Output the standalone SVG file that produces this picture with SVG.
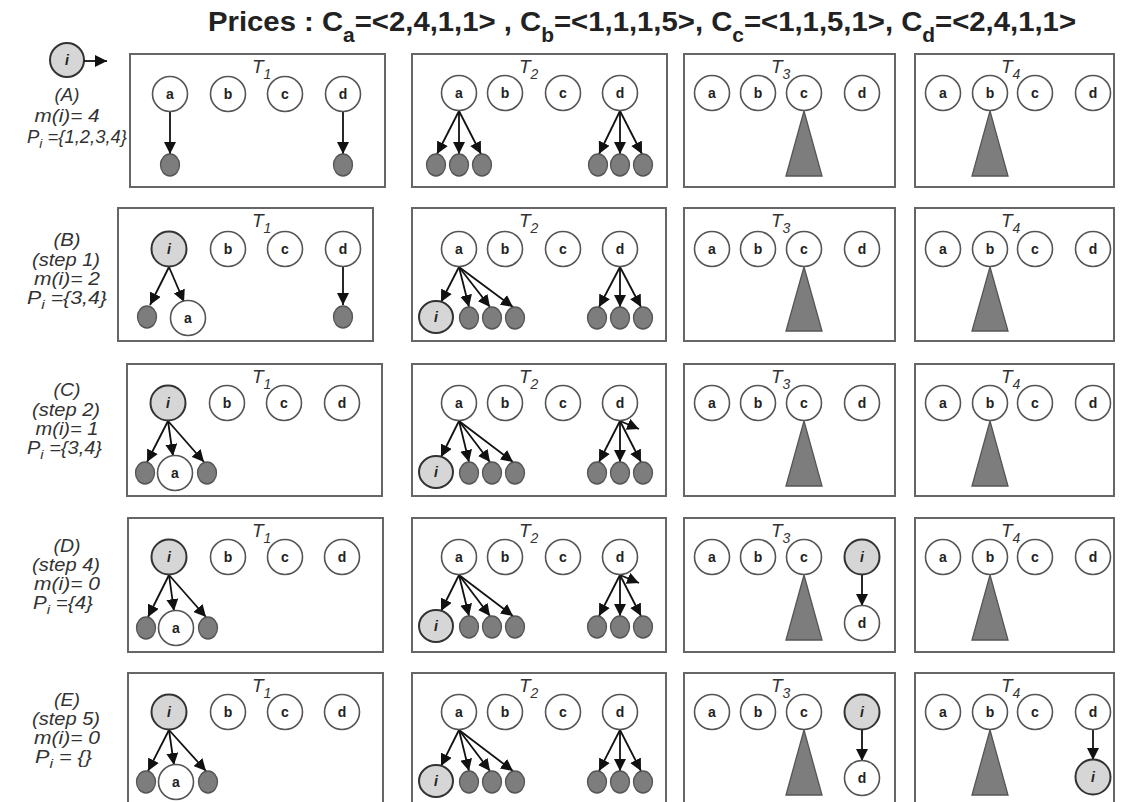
<svg xmlns="http://www.w3.org/2000/svg" width="1121" height="802" viewBox="0 0 1121 802">
<style>
text{font-family:"Liberation Sans",Arial,sans-serif}
.box{fill:#fff;stroke:#666;stroke-width:2}
.n{fill:#fff;stroke:#555;stroke-width:1.6}
.g{fill:#d6d6d6;stroke:#333;stroke-width:2}
.leaf{fill:#7d7d7d;stroke:#555;stroke-width:1.3}
.tri{fill:#7d7d7d;stroke:#555;stroke-width:1.3}
.nl{font-size:14px;font-weight:bold;fill:#222;text-anchor:middle}
.il{font-size:14px;font-weight:bold;font-style:italic;fill:#222;text-anchor:middle}
.tl{font-size:19px;font-style:italic;fill:#333}
.rl{font-size:17.5px;font-style:italic;fill:#333}
.mid{text-anchor:middle}
.e{stroke:#111;stroke-width:1.8;fill:none;marker-end:url(#ah)}
</style>
<defs>
<marker id="ah" viewBox="0 0 10 10" refX="10" refY="5" markerWidth="12" markerHeight="12" markerUnits="userSpaceOnUse" orient="auto"><path d="M0,0 L10,5 L0,10 z" fill="#111"/></marker>
</defs>
<rect width="1121" height="802" fill="#fff"/>
<text x="208" y="31" font-size="28" font-weight="bold" fill="#222" textLength="868" lengthAdjust="spacingAndGlyphs">Prices : C<tspan dy="11" font-size="20">a</tspan><tspan dy="-11">=&lt;2,4,1,1&gt; , C</tspan><tspan dy="11" font-size="20">b</tspan><tspan dy="-11">=&lt;1,1,1,5&gt;, C</tspan><tspan dy="11" font-size="20">c</tspan><tspan dy="-11">=&lt;1,1,5,1&gt;, C</tspan><tspan dy="11" font-size="20">d</tspan><tspan dy="-11">=&lt;2,4,1,1&gt;</tspan></text>

<g id="legend">
<circle class="g" cx="67" cy="60" r="17"/><text class="il" x="67" y="65">i</text>
</g>

<g id="row-labels">
<text class="rl mid" x="67" y="101" textLength="25" lengthAdjust="spacingAndGlyphs">(A)</text>
<text class="rl mid" x="67" y="122" textLength="65" lengthAdjust="spacingAndGlyphs">m(i)= 4</text>
<text class="rl" x="27" y="143" textLength="100" lengthAdjust="spacingAndGlyphs">P<tspan dy="5" font-size="13">i</tspan><tspan dy="-5"> ={1,2,3,4}</tspan></text>
<text class="rl mid" x="67" y="246" textLength="27" lengthAdjust="spacingAndGlyphs">(B)</text>
<text class="rl mid" x="66" y="266" textLength="68" lengthAdjust="spacingAndGlyphs">(step 1)</text>
<text class="rl mid" x="67" y="285" textLength="66" lengthAdjust="spacingAndGlyphs">m(i)= 2</text>
<text class="rl" x="27" y="304" textLength="80" lengthAdjust="spacingAndGlyphs">P<tspan dy="5" font-size="13">i</tspan><tspan dy="-5"> ={3,4}</tspan></text>
<text class="rl mid" x="67" y="396" textLength="27" lengthAdjust="spacingAndGlyphs">(C)</text>
<text class="rl mid" x="66" y="416" textLength="68" lengthAdjust="spacingAndGlyphs">(step 2)</text>
<text class="rl mid" x="67" y="435" textLength="63" lengthAdjust="spacingAndGlyphs">m(i)= 1</text>
<text class="rl" x="27" y="454" textLength="75" lengthAdjust="spacingAndGlyphs">P<tspan dy="5" font-size="13">i</tspan><tspan dy="-5"> ={3,4}</tspan></text>
<text class="rl mid" x="67" y="552" textLength="27" lengthAdjust="spacingAndGlyphs">(D)</text>
<text class="rl mid" x="66" y="571" textLength="68" lengthAdjust="spacingAndGlyphs">(step 4)</text>
<text class="rl mid" x="67" y="590" textLength="66" lengthAdjust="spacingAndGlyphs">m(i)= 0</text>
<text class="rl" x="33" y="609" textLength="60" lengthAdjust="spacingAndGlyphs">P<tspan dy="5" font-size="13">i</tspan><tspan dy="-5"> ={4}</tspan></text>
<text class="rl mid" x="67" y="706" textLength="26" lengthAdjust="spacingAndGlyphs">(E)</text>
<text class="rl mid" x="66" y="725" textLength="68" lengthAdjust="spacingAndGlyphs">(step 5)</text>
<text class="rl mid" x="67" y="744" textLength="66" lengthAdjust="spacingAndGlyphs">m(i)= 0</text>
<text class="rl" x="35" y="763" textLength="57" lengthAdjust="spacingAndGlyphs">P<tspan dy="5" font-size="13">i</tspan><tspan dy="-5"> = {}</tspan></text>
</g>

<g id="boxes">
<rect class="box" x="130" y="54" width="255" height="133"/>
<rect class="box" x="412" y="54" width="255" height="133"/>
<rect class="box" x="684" y="54" width="211" height="133"/>
<rect class="box" x="915" y="54" width="199" height="133"/>
<rect class="box" x="118" y="208" width="255" height="133"/>
<rect class="box" x="412" y="208" width="254" height="133"/>
<rect class="box" x="684" y="208" width="211" height="133"/>
<rect class="box" x="915" y="208" width="199" height="133"/>
<rect class="box" x="127" y="364" width="255" height="132"/>
<rect class="box" x="412" y="364" width="254" height="132"/>
<rect class="box" x="684" y="364" width="211" height="132"/>
<rect class="box" x="915" y="364" width="199" height="132"/>
<rect class="box" x="128" y="518" width="255" height="134"/>
<rect class="box" x="412" y="518" width="254" height="134"/>
<rect class="box" x="684" y="518" width="211" height="134"/>
<rect class="box" x="915" y="518" width="199" height="134"/>
<rect class="box" x="128" y="673" width="255" height="134"/>
<rect class="box" x="412" y="673" width="254" height="134"/>
<rect class="box" x="684" y="673" width="211" height="134"/>
<rect class="box" x="915" y="673" width="199" height="134"/>
</g>

<g id="tree-labels">
<text class="tl" x="252" y="73">T<tspan dy="6" font-size="14">1</tspan></text>
<text class="tl" x="519" y="73">T<tspan dy="6" font-size="14">2</tspan></text>
<text class="tl" x="771" y="73">T<tspan dy="6" font-size="14">3</tspan></text>
<text class="tl" x="1001" y="73">T<tspan dy="6" font-size="14">4</tspan></text>
<text class="tl" x="252" y="227">T<tspan dy="6" font-size="14">1</tspan></text>
<text class="tl" x="519" y="227">T<tspan dy="6" font-size="14">2</tspan></text>
<text class="tl" x="771" y="227">T<tspan dy="6" font-size="14">3</tspan></text>
<text class="tl" x="1001" y="227">T<tspan dy="6" font-size="14">4</tspan></text>
<text class="tl" x="252" y="383">T<tspan dy="6" font-size="14">1</tspan></text>
<text class="tl" x="519" y="383">T<tspan dy="6" font-size="14">2</tspan></text>
<text class="tl" x="771" y="383">T<tspan dy="6" font-size="14">3</tspan></text>
<text class="tl" x="1001" y="383">T<tspan dy="6" font-size="14">4</tspan></text>
<text class="tl" x="252" y="537">T<tspan dy="6" font-size="14">1</tspan></text>
<text class="tl" x="519" y="537">T<tspan dy="6" font-size="14">2</tspan></text>
<text class="tl" x="771" y="537">T<tspan dy="6" font-size="14">3</tspan></text>
<text class="tl" x="1001" y="537">T<tspan dy="6" font-size="14">4</tspan></text>
<text class="tl" x="252" y="692">T<tspan dy="6" font-size="14">1</tspan></text>
<text class="tl" x="519" y="692">T<tspan dy="6" font-size="14">2</tspan></text>
<text class="tl" x="771" y="692">T<tspan dy="6" font-size="14">3</tspan></text>
<text class="tl" x="1001" y="692">T<tspan dy="6" font-size="14">4</tspan></text>
</g>

<g id="connectors">
<line class="e" x1="84" y1="61" x2="107" y2="61"/>
<!-- Row A -->
<line class="e" x1="170" y1="112" x2="170" y2="154"/>
<line class="e" x1="343" y1="112" x2="343" y2="154"/>
<line class="e" x1="459" y1="111" x2="437" y2="154"/>
<line class="e" x1="459" y1="111" x2="459" y2="154"/>
<line class="e" x1="459" y1="111" x2="481" y2="154"/>
<line class="e" x1="620" y1="111" x2="599" y2="154"/>
<line class="e" x1="620" y1="111" x2="620" y2="154"/>
<line class="e" x1="620" y1="111" x2="642" y2="154"/>
<!-- Row B -->
<line class="e" x1="169" y1="267" x2="150" y2="305"/>
<line class="e" x1="169" y1="267" x2="184" y2="302"/>
<line class="e" x1="343" y1="267" x2="343" y2="305"/>
<line class="e" x1="459" y1="267" x2="441" y2="302"/>
<line class="e" x1="459" y1="267" x2="469" y2="307"/>
<line class="e" x1="459" y1="267" x2="490" y2="307"/>
<line class="e" x1="459" y1="267" x2="513" y2="307"/>
<line class="e" x1="620" y1="267" x2="599" y2="307"/>
<line class="e" x1="620" y1="267" x2="620" y2="307"/>
<line class="e" x1="620" y1="267" x2="641" y2="307"/>
<!-- Row C -->
<line class="e" x1="168" y1="421" x2="147" y2="462"/>
<line class="e" x1="168" y1="421" x2="173" y2="456"/>
<line class="e" x1="168" y1="421" x2="204" y2="462"/>
<line class="e" x1="459" y1="421" x2="441" y2="457"/>
<line class="e" x1="459" y1="421" x2="469" y2="462"/>
<line class="e" x1="459" y1="421" x2="490" y2="462"/>
<line class="e" x1="459" y1="421" x2="513" y2="462"/>
<line class="e" x1="620" y1="421" x2="599" y2="462"/>
<line class="e" x1="620" y1="421" x2="620" y2="462"/>
<line class="e" x1="620" y1="421" x2="641" y2="462"/>
<line class="e" x1="620" y1="421" x2="639" y2="429"/>
<!-- Row D -->
<line class="e" x1="169" y1="575" x2="148" y2="617"/>
<line class="e" x1="169" y1="575" x2="174" y2="611"/>
<line class="e" x1="169" y1="575" x2="206" y2="617"/>
<line class="e" x1="459" y1="575" x2="441" y2="611"/>
<line class="e" x1="459" y1="575" x2="469" y2="616"/>
<line class="e" x1="459" y1="575" x2="490" y2="616"/>
<line class="e" x1="459" y1="575" x2="513" y2="616"/>
<line class="e" x1="620" y1="575" x2="599" y2="616"/>
<line class="e" x1="620" y1="575" x2="620" y2="616"/>
<line class="e" x1="620" y1="575" x2="641" y2="616"/>
<line class="e" x1="620" y1="575" x2="639" y2="583"/>
<line class="e" x1="862" y1="575" x2="862" y2="606"/>
<!-- Row E -->
<line class="e" x1="169" y1="730" x2="148" y2="771"/>
<line class="e" x1="169" y1="730" x2="174" y2="765"/>
<line class="e" x1="169" y1="730" x2="206" y2="771"/>
<line class="e" x1="459" y1="730" x2="441" y2="766"/>
<line class="e" x1="459" y1="730" x2="469" y2="771"/>
<line class="e" x1="459" y1="730" x2="490" y2="771"/>
<line class="e" x1="459" y1="730" x2="513" y2="771"/>
<line class="e" x1="620" y1="730" x2="599" y2="771"/>
<line class="e" x1="620" y1="730" x2="620" y2="771"/>
<line class="e" x1="620" y1="730" x2="641" y2="771"/>
<line class="e" x1="862" y1="730" x2="862" y2="761"/>
<line class="e" x1="1093" y1="730" x2="1093" y2="760"/>
</g>

<!-- Row A nodes -->
<g id="A-T1-a"><circle class="n" cx="170" cy="94" r="17.5"/><text class="nl" x="170" y="99">a</text></g>
<g id="A-T1-b"><circle class="n" cx="228" cy="94" r="17.5"/><text class="nl" x="228" y="99">b</text></g>
<g id="A-T1-c"><circle class="n" cx="285" cy="94" r="17.5"/><text class="nl" x="285" y="99">c</text></g>
<g id="A-T1-d"><circle class="n" cx="343" cy="94" r="17.5"/><text class="nl" x="343" y="99">d</text></g>
<g id="A-T1-l1"><ellipse class="leaf" cx="170" cy="165" rx="9.5" ry="11"/></g>
<g id="A-T1-l2"><ellipse class="leaf" cx="343" cy="165" rx="9.5" ry="11"/></g>
<g id="A-T2-a"><circle class="n" cx="459" cy="93" r="17.5"/><text class="nl" x="459" y="98">a</text></g>
<g id="A-T2-b"><circle class="n" cx="505" cy="93" r="17.5"/><text class="nl" x="505" y="98">b</text></g>
<g id="A-T2-c"><circle class="n" cx="563" cy="93" r="17.5"/><text class="nl" x="563" y="98">c</text></g>
<g id="A-T2-d"><circle class="n" cx="620" cy="93" r="17.5"/><text class="nl" x="620" y="98">d</text></g>
<g id="A-T2-leaves"><ellipse class="leaf" cx="436" cy="165" rx="9.5" ry="11"/><ellipse class="leaf" cx="459" cy="165" rx="9.5" ry="11"/><ellipse class="leaf" cx="482" cy="165" rx="9.5" ry="11"/><ellipse class="leaf" cx="598" cy="165" rx="9.5" ry="11"/><ellipse class="leaf" cx="620" cy="165" rx="9.5" ry="11"/><ellipse class="leaf" cx="643" cy="165" rx="9.5" ry="11"/></g>
<g id="A-T3-tri"><polygon class="tri" points="804,111 786,176 822,176"/></g>
<g id="A-T3-a"><circle class="n" cx="712" cy="93" r="17.5"/><text class="nl" x="712" y="98">a</text></g>
<g id="A-T3-b"><circle class="n" cx="758" cy="93" r="17.5"/><text class="nl" x="758" y="98">b</text></g>
<g id="A-T3-c"><circle class="n" cx="804" cy="93" r="17.5"/><text class="nl" x="804" y="98">c</text></g>
<g id="A-T3-d"><circle class="n" cx="862" cy="93" r="17.5"/><text class="nl" x="862" y="98">d</text></g>
<g id="A-T4-tri"><polygon class="tri" points="990,111 972,176 1008,176"/></g>
<g id="A-T4-a"><circle class="n" cx="943" cy="93" r="17.5"/><text class="nl" x="943" y="98">a</text></g>
<g id="A-T4-b"><circle class="n" cx="990" cy="93" r="17.5"/><text class="nl" x="990" y="98">b</text></g>
<g id="A-T4-c"><circle class="n" cx="1035" cy="93" r="17.5"/><text class="nl" x="1035" y="98">c</text></g>
<g id="A-T4-d"><circle class="n" cx="1093" cy="93" r="17.5"/><text class="nl" x="1093" y="98">d</text></g>

<!-- Row B nodes -->
<g id="B-T1-i"><circle class="g" cx="169" cy="249" r="17.5"/><text class="il" x="169" y="254">i</text></g>
<g id="B-T1-b"><circle class="n" cx="228" cy="249" r="17.5"/><text class="nl" x="228" y="254">b</text></g>
<g id="B-T1-c"><circle class="n" cx="285" cy="249" r="17.5"/><text class="nl" x="285" y="254">c</text></g>
<g id="B-T1-d"><circle class="n" cx="343" cy="249" r="17.5"/><text class="nl" x="343" y="254">d</text></g>
<g id="B-T1-l1"><ellipse class="leaf" cx="147" cy="317" rx="9.5" ry="11"/></g>
<g id="B-T1-a"><circle class="n" cx="188" cy="318" r="17.5"/><text class="nl" x="188" y="323">a</text></g>
<g id="B-T1-l2"><ellipse class="leaf" cx="343" cy="317" rx="9.5" ry="11"/></g>
<g id="B-T2-a"><circle class="n" cx="459" cy="249" r="17.5"/><text class="nl" x="459" y="254">a</text></g>
<g id="B-T2-b"><circle class="n" cx="505" cy="249" r="17.5"/><text class="nl" x="505" y="254">b</text></g>
<g id="B-T2-c"><circle class="n" cx="563" cy="249" r="17.5"/><text class="nl" x="563" y="254">c</text></g>
<g id="B-T2-d"><circle class="n" cx="620" cy="249" r="17.5"/><text class="nl" x="620" y="254">d</text></g>
<g id="B-T2-i"><ellipse class="g" cx="436" cy="317" rx="17" ry="16"/><text class="il" x="436" y="322">i</text></g>
<g id="B-T2-leaves"><ellipse class="leaf" cx="469" cy="318" rx="9.5" ry="11"/><ellipse class="leaf" cx="492" cy="318" rx="9.5" ry="11"/><ellipse class="leaf" cx="515" cy="318" rx="9.5" ry="11"/><ellipse class="leaf" cx="597" cy="318" rx="9.5" ry="11"/><ellipse class="leaf" cx="620" cy="318" rx="9.5" ry="11"/><ellipse class="leaf" cx="643" cy="318" rx="9.5" ry="11"/></g>
<g id="B-T3-tri"><polygon class="tri" points="804,267 786,331 822,331"/></g>
<g id="B-T3-a"><circle class="n" cx="712" cy="249" r="17.5"/><text class="nl" x="712" y="254">a</text></g>
<g id="B-T3-b"><circle class="n" cx="758" cy="249" r="17.5"/><text class="nl" x="758" y="254">b</text></g>
<g id="B-T3-c"><circle class="n" cx="804" cy="249" r="17.5"/><text class="nl" x="804" y="254">c</text></g>
<g id="B-T3-d"><circle class="n" cx="862" cy="249" r="17.5"/><text class="nl" x="862" y="254">d</text></g>
<g id="B-T4-tri"><polygon class="tri" points="990,267 972,331 1008,331"/></g>
<g id="B-T4-a"><circle class="n" cx="943" cy="249" r="17.5"/><text class="nl" x="943" y="254">a</text></g>
<g id="B-T4-b"><circle class="n" cx="990" cy="249" r="17.5"/><text class="nl" x="990" y="254">b</text></g>
<g id="B-T4-c"><circle class="n" cx="1035" cy="249" r="17.5"/><text class="nl" x="1035" y="254">c</text></g>
<g id="B-T4-d"><circle class="n" cx="1093" cy="249" r="17.5"/><text class="nl" x="1093" y="254">d</text></g>

<!-- Row C nodes -->
<g id="C-T1-i"><circle class="g" cx="168" cy="403" r="17.5"/><text class="il" x="168" y="408">i</text></g>
<g id="C-T1-b"><circle class="n" cx="227" cy="403" r="17.5"/><text class="nl" x="227" y="408">b</text></g>
<g id="C-T1-c"><circle class="n" cx="284" cy="403" r="17.5"/><text class="nl" x="284" y="408">c</text></g>
<g id="C-T1-d"><circle class="n" cx="342" cy="403" r="17.5"/><text class="nl" x="342" y="408">d</text></g>
<g id="C-T1-l1"><ellipse class="leaf" cx="145" cy="473" rx="9.5" ry="11"/></g>
<g id="C-T1-a"><circle class="n" cx="175" cy="473" r="17.5"/><text class="nl" x="175" y="478">a</text></g>
<g id="C-T1-l2"><ellipse class="leaf" cx="207" cy="473" rx="9.5" ry="11"/></g>
<g id="C-T2-a"><circle class="n" cx="459" cy="403" r="17.5"/><text class="nl" x="459" y="408">a</text></g>
<g id="C-T2-b"><circle class="n" cx="505" cy="403" r="17.5"/><text class="nl" x="505" y="408">b</text></g>
<g id="C-T2-c"><circle class="n" cx="563" cy="403" r="17.5"/><text class="nl" x="563" y="408">c</text></g>
<g id="C-T2-d"><circle class="n" cx="620" cy="403" r="17.5"/><text class="nl" x="620" y="408">d</text></g>
<g id="C-T2-i"><ellipse class="g" cx="436" cy="472" rx="17" ry="16"/><text class="il" x="436" y="477">i</text></g>
<g id="C-T2-leaves"><ellipse class="leaf" cx="469" cy="473" rx="9.5" ry="11"/><ellipse class="leaf" cx="492" cy="473" rx="9.5" ry="11"/><ellipse class="leaf" cx="515" cy="473" rx="9.5" ry="11"/><ellipse class="leaf" cx="597" cy="473" rx="9.5" ry="11"/><ellipse class="leaf" cx="620" cy="473" rx="9.5" ry="11"/><ellipse class="leaf" cx="643" cy="473" rx="9.5" ry="11"/></g>
<g id="C-T3-tri"><polygon class="tri" points="804,421 786,486 822,486"/></g>
<g id="C-T3-a"><circle class="n" cx="712" cy="403" r="17.5"/><text class="nl" x="712" y="408">a</text></g>
<g id="C-T3-b"><circle class="n" cx="758" cy="403" r="17.5"/><text class="nl" x="758" y="408">b</text></g>
<g id="C-T3-c"><circle class="n" cx="804" cy="403" r="17.5"/><text class="nl" x="804" y="408">c</text></g>
<g id="C-T3-d"><circle class="n" cx="862" cy="403" r="17.5"/><text class="nl" x="862" y="408">d</text></g>
<g id="C-T4-tri"><polygon class="tri" points="990,421 972,486 1008,486"/></g>
<g id="C-T4-a"><circle class="n" cx="943" cy="403" r="17.5"/><text class="nl" x="943" y="408">a</text></g>
<g id="C-T4-b"><circle class="n" cx="990" cy="403" r="17.5"/><text class="nl" x="990" y="408">b</text></g>
<g id="C-T4-c"><circle class="n" cx="1035" cy="403" r="17.5"/><text class="nl" x="1035" y="408">c</text></g>
<g id="C-T4-d"><circle class="n" cx="1093" cy="403" r="17.5"/><text class="nl" x="1093" y="408">d</text></g>

<!-- Row D nodes -->
<g id="D-T1-i"><circle class="g" cx="169" cy="557" r="17.5"/><text class="il" x="169" y="562">i</text></g>
<g id="D-T1-b"><circle class="n" cx="228" cy="557" r="17.5"/><text class="nl" x="228" y="562">b</text></g>
<g id="D-T1-c"><circle class="n" cx="285" cy="557" r="17.5"/><text class="nl" x="285" y="562">c</text></g>
<g id="D-T1-d"><circle class="n" cx="342" cy="557" r="17.5"/><text class="nl" x="342" y="562">d</text></g>
<g id="D-T1-l1"><ellipse class="leaf" cx="146" cy="628" rx="9.5" ry="11"/></g>
<g id="D-T1-a"><circle class="n" cx="176" cy="628" r="17.5"/><text class="nl" x="176" y="633">a</text></g>
<g id="D-T1-l2"><ellipse class="leaf" cx="208" cy="628" rx="9.5" ry="11"/></g>
<g id="D-T2-a"><circle class="n" cx="459" cy="557" r="17.5"/><text class="nl" x="459" y="562">a</text></g>
<g id="D-T2-b"><circle class="n" cx="505" cy="557" r="17.5"/><text class="nl" x="505" y="562">b</text></g>
<g id="D-T2-c"><circle class="n" cx="563" cy="557" r="17.5"/><text class="nl" x="563" y="562">c</text></g>
<g id="D-T2-d"><circle class="n" cx="620" cy="557" r="17.5"/><text class="nl" x="620" y="562">d</text></g>
<g id="D-T2-i"><ellipse class="g" cx="436" cy="626" rx="17" ry="16"/><text class="il" x="436" y="631">i</text></g>
<g id="D-T2-leaves"><ellipse class="leaf" cx="469" cy="627" rx="9.5" ry="11"/><ellipse class="leaf" cx="492" cy="627" rx="9.5" ry="11"/><ellipse class="leaf" cx="515" cy="627" rx="9.5" ry="11"/><ellipse class="leaf" cx="597" cy="627" rx="9.5" ry="11"/><ellipse class="leaf" cx="620" cy="627" rx="9.5" ry="11"/><ellipse class="leaf" cx="643" cy="627" rx="9.5" ry="11"/></g>
<g id="D-T3-tri"><polygon class="tri" points="804,575 786,640 822,640"/></g>
<g id="D-T3-a"><circle class="n" cx="712" cy="557" r="17.5"/><text class="nl" x="712" y="562">a</text></g>
<g id="D-T3-b"><circle class="n" cx="758" cy="557" r="17.5"/><text class="nl" x="758" y="562">b</text></g>
<g id="D-T3-c"><circle class="n" cx="804" cy="557" r="17.5"/><text class="nl" x="804" y="562">c</text></g>
<g id="D-T3-i"><circle class="g" cx="862" cy="557" r="17.5"/><text class="il" x="862" y="562">i</text></g>
<g id="D-T3-d"><circle class="n" cx="862" cy="623" r="17.5"/><text class="nl" x="862" y="628">d</text></g>
<g id="D-T4-tri"><polygon class="tri" points="990,575 972,640 1008,640"/></g>
<g id="D-T4-a"><circle class="n" cx="943" cy="557" r="17.5"/><text class="nl" x="943" y="562">a</text></g>
<g id="D-T4-b"><circle class="n" cx="990" cy="557" r="17.5"/><text class="nl" x="990" y="562">b</text></g>
<g id="D-T4-c"><circle class="n" cx="1035" cy="557" r="17.5"/><text class="nl" x="1035" y="562">c</text></g>
<g id="D-T4-d"><circle class="n" cx="1093" cy="557" r="17.5"/><text class="nl" x="1093" y="562">d</text></g>

<!-- Row E nodes -->
<g id="E-T1-i"><circle class="g" cx="169" cy="712" r="17.5"/><text class="il" x="169" y="717">i</text></g>
<g id="E-T1-b"><circle class="n" cx="228" cy="712" r="17.5"/><text class="nl" x="228" y="717">b</text></g>
<g id="E-T1-c"><circle class="n" cx="285" cy="712" r="17.5"/><text class="nl" x="285" y="717">c</text></g>
<g id="E-T1-d"><circle class="n" cx="342" cy="712" r="17.5"/><text class="nl" x="342" y="717">d</text></g>
<g id="E-T1-l1"><ellipse class="leaf" cx="146" cy="782" rx="9.5" ry="11"/></g>
<g id="E-T1-a"><circle class="n" cx="176" cy="782" r="17.5"/><text class="nl" x="176" y="787">a</text></g>
<g id="E-T1-l2"><ellipse class="leaf" cx="208" cy="782" rx="9.5" ry="11"/></g>
<g id="E-T2-a"><circle class="n" cx="459" cy="712" r="17.5"/><text class="nl" x="459" y="717">a</text></g>
<g id="E-T2-b"><circle class="n" cx="505" cy="712" r="17.5"/><text class="nl" x="505" y="717">b</text></g>
<g id="E-T2-c"><circle class="n" cx="563" cy="712" r="17.5"/><text class="nl" x="563" y="717">c</text></g>
<g id="E-T2-d"><circle class="n" cx="620" cy="712" r="17.5"/><text class="nl" x="620" y="717">d</text></g>
<g id="E-T2-i"><ellipse class="g" cx="436" cy="781" rx="17" ry="16"/><text class="il" x="436" y="786">i</text></g>
<g id="E-T2-leaves"><ellipse class="leaf" cx="469" cy="782" rx="9.5" ry="11"/><ellipse class="leaf" cx="492" cy="782" rx="9.5" ry="11"/><ellipse class="leaf" cx="515" cy="782" rx="9.5" ry="11"/><ellipse class="leaf" cx="597" cy="782" rx="9.5" ry="11"/><ellipse class="leaf" cx="620" cy="782" rx="9.5" ry="11"/><ellipse class="leaf" cx="643" cy="782" rx="9.5" ry="11"/></g>
<g id="E-T3-tri"><polygon class="tri" points="804,730 786,795 822,795"/></g>
<g id="E-T3-a"><circle class="n" cx="712" cy="712" r="17.5"/><text class="nl" x="712" y="717">a</text></g>
<g id="E-T3-b"><circle class="n" cx="758" cy="712" r="17.5"/><text class="nl" x="758" y="717">b</text></g>
<g id="E-T3-c"><circle class="n" cx="804" cy="712" r="17.5"/><text class="nl" x="804" y="717">c</text></g>
<g id="E-T3-i"><circle class="g" cx="862" cy="712" r="17.5"/><text class="il" x="862" y="717">i</text></g>
<g id="E-T3-d"><circle class="n" cx="862" cy="778" r="17.5"/><text class="nl" x="862" y="783">d</text></g>
<g id="E-T4-tri"><polygon class="tri" points="990,730 972,795 1008,795"/></g>
<g id="E-T4-a"><circle class="n" cx="943" cy="712" r="17.5"/><text class="nl" x="943" y="717">a</text></g>
<g id="E-T4-b"><circle class="n" cx="990" cy="712" r="17.5"/><text class="nl" x="990" y="717">b</text></g>
<g id="E-T4-c"><circle class="n" cx="1035" cy="712" r="17.5"/><text class="nl" x="1035" y="717">c</text></g>
<g id="E-T4-d"><circle class="n" cx="1093" cy="712" r="17.5"/><text class="nl" x="1093" y="717">d</text></g>
<g id="E-T4-i"><circle class="g" cx="1093" cy="777" r="17.5"/><text class="il" x="1093" y="782">i</text></g>
</svg>
